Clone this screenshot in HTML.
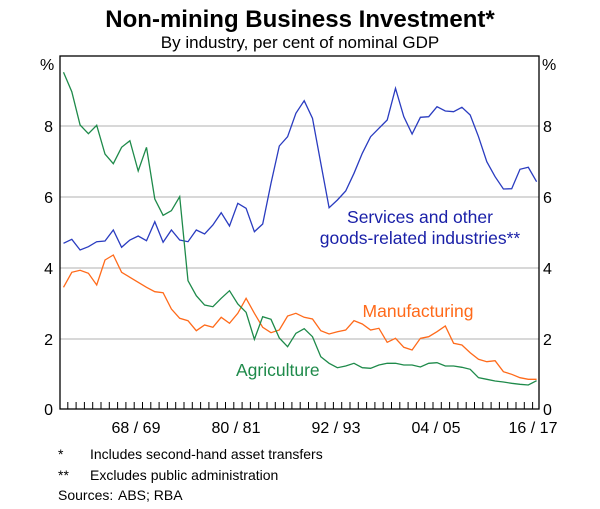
<!DOCTYPE html>
<html><head><meta charset="utf-8"><style>
body{margin:0;background:#fff}
svg{display:block;font-family:"Liberation Sans",Arial,sans-serif}
</style></head><body>
<svg width="600" height="509" xmlns="http://www.w3.org/2000/svg">
<text x="300" y="27" text-anchor="middle" font-size="24" font-weight="bold">Non-mining Business Investment*</text>
<text x="300" y="48" text-anchor="middle" font-size="17">By industry, per cent of nominal GDP</text>
<g stroke="#b0b0b0" stroke-width="1">
<line x1="60" y1="126" x2="539" y2="126"/><line x1="60" y1="197" x2="539" y2="197"/>
<line x1="60" y1="268" x2="539" y2="268"/><line x1="60" y1="339" x2="539" y2="339"/>
</g>
<g font-size="16" fill="#000">
<text x="40" y="70">%</text><text x="542" y="70">%</text>
<text x="53" y="132" text-anchor="end">8</text><text x="53" y="203" text-anchor="end">6</text>
<text x="53" y="274" text-anchor="end">4</text><text x="53" y="345" text-anchor="end">2</text>
<text x="53" y="415" text-anchor="end">0</text>
<text x="543" y="132">8</text><text x="543" y="203">6</text><text x="543" y="274">4</text><text x="543" y="345">2</text><text x="543" y="415">0</text>
<text x="136" y="433" text-anchor="middle">68 / 69</text>
<text x="236" y="433" text-anchor="middle">80 / 81</text>
<text x="336" y="433" text-anchor="middle">92 / 93</text>
<text x="436" y="433" text-anchor="middle">04 / 05</text>
<text x="533" y="433" text-anchor="middle">16 / 17</text>
</g>
<path stroke="#000" stroke-width="1" fill="none" d="M67.8 409V402M76.1 409V402M84.4 409V402M92.7 409V402M101 409V402M109.3 409V402M117.6 409V402M125.9 409V402M134.2 409V402M142.5 409V402M150.8 409V402M159.1 409V402M167.4 409V402M175.7 409V402M184 409V402M192.3 409V402M200.6 409V402M208.9 409V402M217.2 409V402M225.5 409V402M233.8 409V402M242.1 409V402M250.4 409V402M258.7 409V402M267 409V402M275.3 409V402M283.6 409V402M291.9 409V402M300.2 409V402M308.5 409V402M316.8 409V402M325.1 409V402M333.4 409V402M341.7 409V402M350 409V402M358.3 409V402M366.6 409V402M374.9 409V402M383.2 409V402M391.5 409V402M399.8 409V402M408.1 409V402M416.4 409V402M424.7 409V402M433 409V402M441.3 409V402M449.6 409V402M457.9 409V402M466.2 409V402M474.5 409V402M482.8 409V402M491.1 409V402M499.4 409V402M507.7 409V402M516 409V402M524.3 409V402M532.6 409V402"/>
<polyline fill="none" stroke="#2a3cc0" stroke-width="1.3" points="63.5,243.3 71.8,239.3 80.1,250 88.4,246.7 96.7,241.7 105,241 113.3,230 121.6,247.3 129.9,240 138.2,236 146.5,240.7 154.8,221.7 163.1,242.3 171.4,230 179.7,240 188,241.7 196.3,230 204.6,234 212.9,225 221.2,212.7 229.5,226 237.8,203.3 246.1,208.3 254.4,231.7 262.7,224 271,183.3 279.3,146 287.6,136.7 295.9,113.3 304.2,100.7 312.5,118.3 320.8,163.3 329.1,207.7 337.4,200 345.7,191 354,173.3 362.3,153.3 370.6,136.7 378.9,128.3 387.2,120 395.5,88.3 403.8,116.7 412.1,134 420.4,117.3 428.7,116.7 437,106.7 445.3,111 453.6,111.7 461.9,107.3 470.2,115 478.5,136.7 486.8,161.7 495.1,176.7 503.4,189 511.7,188.7 520,169.3 528.3,167.3 536.6,181.7"/>
<polyline fill="none" stroke="#ff6a1a" stroke-width="1.3" points="63.5,287.3 71.8,272.3 80.1,270.3 88.4,273.3 96.7,285 105,260 113.3,255 121.6,272.3 129.9,277.3 138.2,282.3 146.5,287.3 154.8,291.7 163.1,292.7 171.4,309 179.7,318.3 188,320.7 196.3,330.7 204.6,325 212.9,327.3 221.2,317.3 229.5,323.3 237.8,313.3 246.1,298.3 254.4,313.3 262.7,327.3 271,332.7 279.3,330 287.6,316 295.9,313.3 304.2,317.3 312.5,319 320.8,330.7 329.1,334 337.4,331.7 345.7,330 354,320.7 362.3,324 370.6,330 378.9,328.3 387.2,342.3 395.5,338.3 403.8,347.3 412.1,350 420.4,338.3 428.7,336.7 437,331.7 445.3,326 453.6,343.3 461.9,345 470.2,352.7 478.5,359.3 486.8,361.7 495.1,360.7 503.4,371.7 511.7,374.3 520,377.7 528.3,379.3 536.6,379.3"/>
<polyline fill="none" stroke="#1e8a4a" stroke-width="1.3" points="63.5,72.3 71.8,91.7 80.1,125 88.4,133.7 96.7,125.3 105,154 113.3,163.7 121.6,147.3 129.9,140.7 138.2,171 146.5,147.3 154.8,199 163.1,215.3 171.4,210.7 179.7,196.7 188,280.7 196.3,295.7 204.6,305 212.9,306.7 221.2,298.3 229.5,290.7 237.8,304 246.1,312.3 254.4,339.3 262.7,316.7 271,319.3 279.3,338 287.6,346.7 295.9,333.3 304.2,328.7 312.5,336.7 320.8,356.7 329.1,363.3 337.4,367.7 345.7,366 354,363.3 362.3,367.7 370.6,368.3 378.9,365 387.2,363.3 395.5,363.3 403.8,365 412.1,365 420.4,367 428.7,363.3 437,362.7 445.3,366 453.6,366 461.9,367.3 470.2,369.3 478.5,377.7 486.8,379.3 495.1,381 503.4,382 511.7,383.3 520,384.3 528.3,385 536.6,380.7"/>
<rect x="60" y="56" width="479" height="353" fill="none" stroke="#000" stroke-width="1.3"/>
<g font-size="17.5">
<text x="420" y="223" text-anchor="middle" fill="#1a20a8">Services and other</text>
<text x="420" y="244" text-anchor="middle" fill="#1a20a8">goods-related industries**</text>
<text x="418" y="317" text-anchor="middle" fill="#ff6a1a">Manufacturing</text>
<text x="236" y="376" fill="#1e8a4a">Agriculture</text>
</g>
<g font-size="14">
<text x="58" y="459">*</text><text x="90" y="459">Includes second-hand asset transfers</text>
<text x="58" y="480">**</text><text x="90" y="480">Excludes public administration</text>
<text x="58" y="500">Sources:</text><text x="118" y="500">ABS; RBA</text>
</g>
</svg>
</body></html>
